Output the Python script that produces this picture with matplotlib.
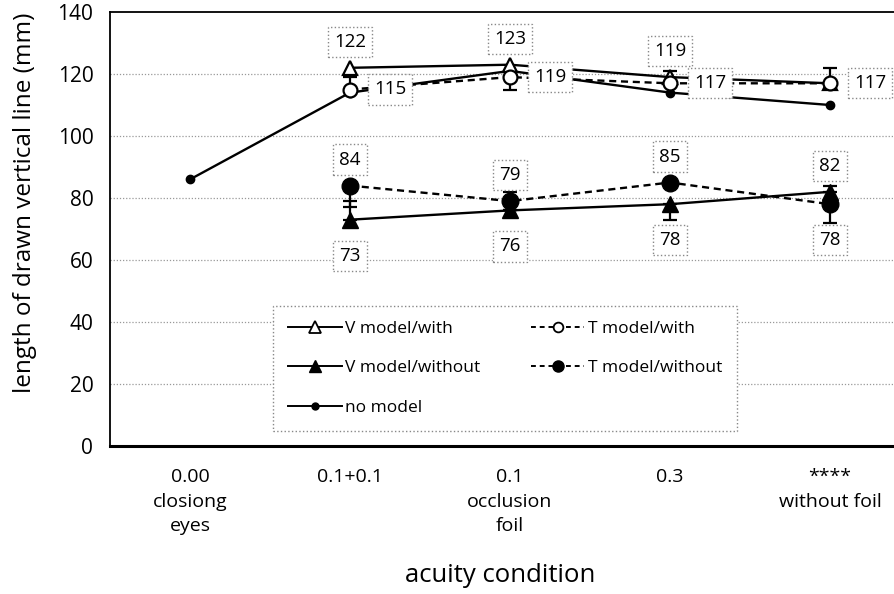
import matplotlib
matplotlib.use("Agg")
import matplotlib.pyplot as plt
from matplotlib.lines import Line2D
import numpy as np

plt.rcParams['font.family'] = ['Open Sans', 'DejaVu Sans']

# acuity conditions on the x axis
conditions = ["0.00\nclosiong\neyes", "0.1+0.1", "0.1\nocclusion\nfoil", "0.3", "****\nwithout foil"]
x_all = np.arange(len(conditions))
x_model = x_all[1:]

# mean length of drawn vertical line (mm)
v_with = [122, 123, 119, 117]
t_with = [115, 119, 117, 117]
v_without = [73, 76, 78, 82]
t_without = [84, 79, 85, 78]
no_model = [86, 114, 121, 114, 110]

# one-sided error bars (lower, upper)
t_with_err = [[0, 4, 0, 0], [4, 0, 4, 5]]
v_without_err = [[0, 0, 5, 0], [6, 0, 0, 2]]
t_without_err = [[7, 0, 0, 6], [0, 3, 0, 0]]

fig = plt.figure(figsize=(8.95, 5.94), dpi=100)
ax = fig.add_axes([110 / 895, 148 / 594, 800 / 895, 434 / 594])

ax.set_xlim(-0.5, 4.5)
ax.set_ylim(0, 140)
ax.set_yticks(np.arange(0, 141, 20))
ax.set_xticks(x_all)
ax.set_xticklabels(conditions, fontsize=14)
for t in ax.get_xticklabels():
    t.set_linespacing(1.45)
ax.tick_params(axis='x', length=0, pad=16)
ax.tick_params(axis='y', length=0, pad=12, labelsize=15)

for y in range(20, 140, 20):
    ax.axhline(y, color='#999999', lw=0.9, ls=(0, (1, 1.5)), zorder=0)

for side in ['left', 'top', 'right']:
    ax.spines[side].set_linewidth(1.3)
ax.spines['bottom'].set_linewidth(2.2)

lw = 1.7
# series
ax.plot(x_all, no_model, '-', color='black', lw=lw, marker='o', ms=6, zorder=3)
ax.errorbar(x_model, t_with, yerr=t_with_err, fmt='--', color='black', lw=lw,
            dashes=(3, 2), marker='o', ms=10, mfc='white', mew=1.6,
            ecolor='black', elinewidth=1.6, capsize=5, capthick=1.6, zorder=4)
ax.plot(x_model, v_with, '-', color='black', lw=lw, marker='^', ms=10,
        mfc='white', mew=1.6, zorder=4)
ax.errorbar(x_model, v_without, yerr=v_without_err, fmt='-', color='black', lw=lw,
            marker='^', ms=11, ecolor='black', elinewidth=1.6, capsize=5,
            capthick=1.6, zorder=4)
ax.errorbar(x_model, t_without, yerr=t_without_err, fmt='--', color='black', lw=lw,
            dashes=(3, 2), marker='o', ms=12, ecolor='black', elinewidth=1.6,
            capsize=5, capthick=1.6, zorder=4)

box = dict(boxstyle='square,pad=0.33', fc='white', ec='#888888', ls=':', lw=1)
px = 72 / 100  # points per pixel


def label(xv, yv, dx, dy):
    ax.annotate(f"{yv}", (xv, yv), xytext=(dx * px, dy * px),
                textcoords='offset points', ha='center', va='center',
                fontsize=13.5, bbox=box, zorder=6)


for xv, yv in zip(x_model[:3], v_with[:3]):
    label(xv, yv, 0, 26)
for xv, yv in zip(x_model, t_with):
    label(xv, yv, 40, 0)
for xv, a, b in zip(x_model, v_without, t_without):
    label(xv, max(a, b), 0, 26)
    label(xv, min(a, b), 0, -36)

# legend entries
legend_items = [
    ('V model/with', dict(ls='-', marker='^', ms=8, mfc='white', mew=1.3)),
    ('V model/without', dict(ls='-', marker='^', ms=8)),
    ('no model', dict(ls='-', marker='o', ms=5)),
    ('T model/with', dict(ls=(0, (2.5, 2)), marker='o', ms=7, mfc='white', mew=1.3)),
    ('T model/without', dict(ls=(0, (2.5, 2)), marker='o', ms=8)),
]
handles = [Line2D([], [], color='black', lw=1.4, **kw) for _, kw in legend_items]
leg = ax.legend(handles, [n for n, _ in legend_items], ncol=2, loc='upper left',
                bbox_to_anchor=(163 / 800, 1 - 294 / 434), borderaxespad=0,
                fontsize=12.5, handlelength=3.1, handletextpad=0.2,
                labelspacing=1.35, columnspacing=2.9, fancybox=False, framealpha=1,
                borderpad=0.85)
leg.get_frame().set_edgecolor('#888888')
leg.get_frame().set_linestyle(':')
leg.get_frame().set_linewidth(1)
leg.set_zorder(7)

fig.text(25 / 895, 1 - 203 / 594, 'length of drawn vertical line (mm)', rotation=90,
         ha='center', va='center', fontsize=17.5)
fig.text(500 / 895, 1 - 576 / 594, 'acuity condition', ha='center', va='center',
         fontsize=18.5)

fig.savefig('out.png', dpi=100, facecolor='white')
